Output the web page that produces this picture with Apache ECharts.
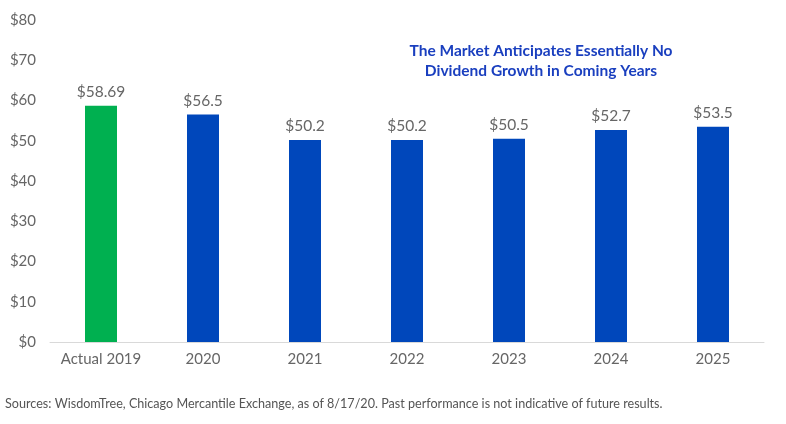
<!DOCTYPE html>
<html>
<head>
<meta charset="utf-8">
<script src="https://cdn.jsdelivr.net/npm/echarts@6/dist/echarts.min.js"></script>
<style>
  html, body { margin: 0; padding: 0; background: #fff; }
  #chart { width: 786px; height: 424px; }
</style>
</head>
<body>
<div id="chart"></div>
<script>
var categories = ['Actual 2019', '2020', '2021', '2022', '2023', '2024', '2025'];
var values = [58.69, 56.5, 50.2, 50.2, 50.5, 52.7, 53.5];
var labels = ['$58.69', '$56.5', '$50.2', '$50.2', '$50.5', '$52.7', '$53.5'];
var barColors = ['#00b050', '#0047bb', '#0047bb', '#0047bb', '#0047bb', '#0047bb', '#0047bb'];

var myChart = echarts.init(document.getElementById('chart'));
var font = 'Lato, "Open Sans", sans-serif';

var option = {
    animation: false,
    grid: { left: 50, right: 22, top: 20, bottom: 82 },
    title: [
        {
            text: 'The Market Anticipates Essentially No\nDividend Growth in Coming Years',
            left: 536,
            top: 36,
            textAlign: 'center',
            textStyle: { fontFamily: font, fontSize: 15.5, fontWeight: 'bold', color: '#1a3fbf', lineHeight: 20 }
        },
        {
            text: 'Sources: WisdomTree, Chicago Mercantile Exchange, as of 8/17/20. Past performance is not indicative of future results.',
            left: 0,
            top: 392,
            textStyle: { fontFamily: font, fontSize: 12.6, fontWeight: 'normal', color: '#555' }
        }
    ],
    xAxis: {
        type: 'category',
        data: categories,
        axisLine: { lineStyle: { color: '#d9d9d9', width: 1 } },
        axisTick: { show: false },
        axisLabel: { interval: 0, fontFamily: font, fontSize: 15, color: '#666', margin: 10 }
    },
    yAxis: {
        type: 'value',
        min: 0,
        max: 80,
        interval: 10,
        splitLine: { show: false },
        axisLine: { show: false },
        axisTick: { show: false },
        axisLabel: { fontFamily: font, fontSize: 15, color: '#666', margin: 14, formatter: '${value}' }
    },
    series: [{
        type: 'bar',
        barWidth: 32,
        data: values.map(function (v, i) {
            return { value: v, itemStyle: { color: barColors[i] } };
        }),
        label: {
            show: true,
            position: 'top',
            distance: 6,
            fontFamily: font,
            fontSize: 15.5,
            color: '#666',
            formatter: function (p) { return labels[p.dataIndex]; }
        }
    }]
};

myChart.setOption(option);
</script>
</body>
</html>
